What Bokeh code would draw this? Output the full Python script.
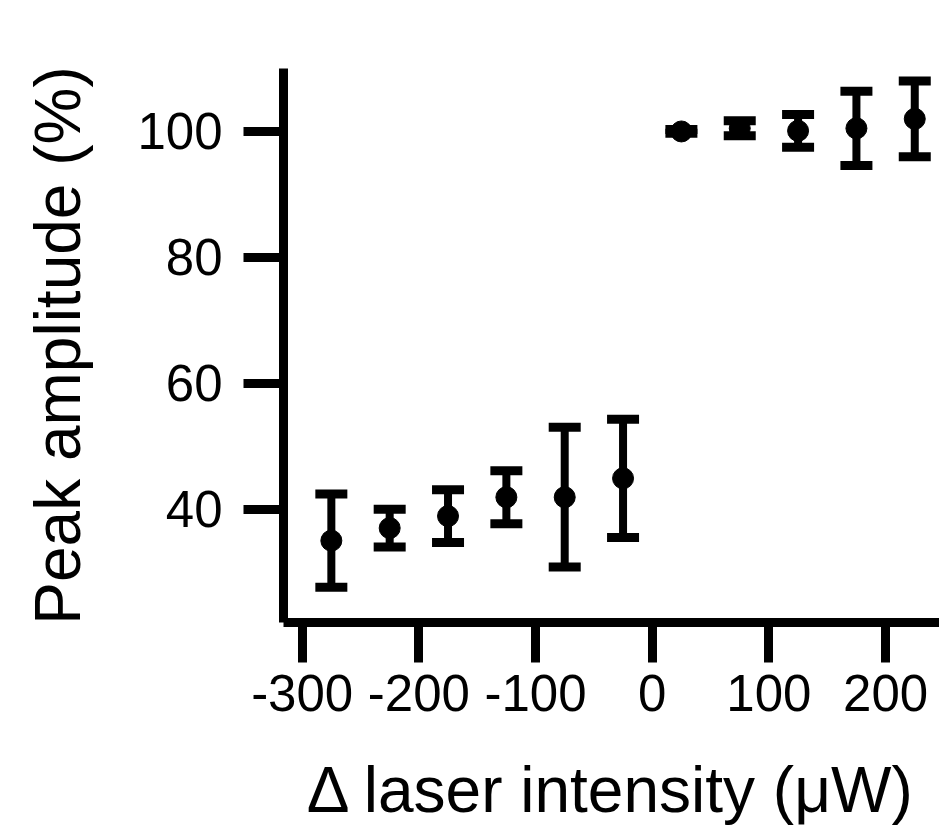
from bokeh.plotting import figure
from bokeh.models import Whisker, TeeHead, ColumnDataSource, FixedTicker, Range1d
from bokeh.embed import file_html
from bokeh.resources import INLINE

# data
intensity = [-275, -225, -175, -125, -75, -25, 25, 75, 125, 175, 225]
amplitude = [35.0, 37.0, 38.9, 41.9, 41.9, 44.9, 100.0, 100.5, 100.1, 100.5, 102.0]
error = [7.4, 3.0, 4.2, 4.2, 11.1, 9.4, 0.3, 1.2, 2.6, 5.9, 6.0]
x_ticks = [-300, -200, -100, 0, 100, 200]
y_ticks = [40, 60, 80, 100]
x_title = "Δ laser intensity (μW)"
y_title = "Peak amplitude (%)"

src = ColumnDataSource(dict(
    x=intensity,
    y=amplitude,
    upper=[a + e for a, e in zip(amplitude, error)],
    lower=[a - e for a, e in zip(amplitude, error)],
))

FONT = "Liberation Sans"

p = figure(width=939, height=828, output_backend="svg", toolbar_location=None,
           x_range=Range1d(-316, 246.2), y_range=Range1d(22, 110),
           min_border_left=283, min_border_right=0, min_border_top=68,
           min_border_bottom=206)
p.outline_line_color = None
p.grid.visible = False
p.background_fill_color = "white"
p.border_fill_color = "white"

w = Whisker(source=src, base="x", upper="upper", lower="lower", dimension="height",
            line_width=8, line_color="black",
            upper_head=TeeHead(size=32, line_width=9, line_color="black"),
            lower_head=TeeHead(size=32, line_width=9, line_color="black"))
p.add_layout(w)
p.scatter("x", "y", source=src, size=21, color="black")

for ax in (p.xaxis[0], p.yaxis[0]):
    ax.axis_line_width = 9
    ax.axis_line_color = "black"
    ax.major_tick_line_width = 9
    ax.major_tick_line_color = "black"
    ax.major_tick_in = 0
    ax.major_tick_out = 40
    ax.minor_tick_line_color = None
    ax.major_label_text_font = FONT
    ax.major_label_text_font_size = "51px"
    ax.major_label_text_color = "black"
    ax.axis_label_text_font = FONT
    ax.axis_label_text_font_size = "64px"
    ax.axis_label_text_font_style = "normal"
    ax.axis_label_text_color = "black"

p.xaxis.ticker = FixedTicker(ticks=x_ticks)
p.yaxis.ticker = FixedTicker(ticks=y_ticks)
p.xaxis.major_label_overrides = {t: str(t) for t in x_ticks}
p.yaxis.major_label_overrides = {t: str(t) for t in y_ticks}
p.xaxis.axis_label = x_title
p.yaxis.axis_label = y_title
p.xaxis.major_label_standoff = 12
p.xaxis.axis_label_standoff = 40
p.yaxis.major_label_standoff = 21
p.yaxis.axis_label_standoff = 40

open("out.html", "w").write(file_html(p, INLINE))
